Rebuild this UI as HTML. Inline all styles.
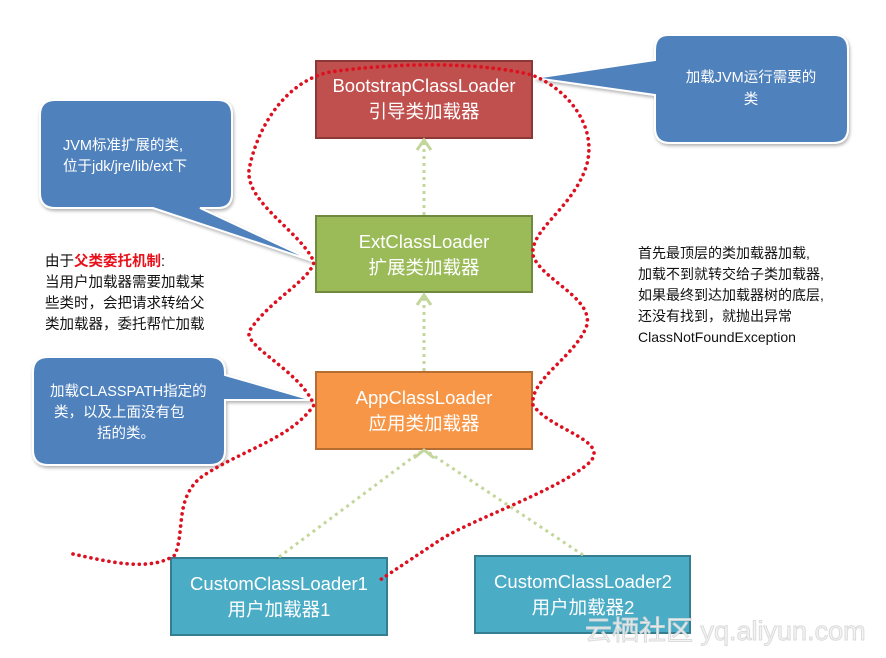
<!DOCTYPE html>
<html><head><meta charset="utf-8"><style>
html,body{margin:0;padding:0;background:#fff;}
svg{display:block;font-family:"Liberation Sans","Noto Sans CJK SC",sans-serif;}
</style></head><body>
<svg width="886" height="658" viewBox="0 0 886 658" xmlns="http://www.w3.org/2000/svg">
<defs>
<filter id="sh" x="-10%" y="-10%" width="130%" height="130%"><feDropShadow dx="1" dy="2" stdDeviation="1.5" flood-color="#000" flood-opacity="0.3"/></filter>
</defs>
<g fill="#4f81bd" stroke="#fff" stroke-width="2" filter="url(#sh)">
<path d="M668,35 H835 Q848,35 848,50 V128 Q848,143 833,143 H670 Q655,143 655,128 V95 L535,78 L655,60 V50 Q655,35 668,35 Z"/>
<path d="M55,100 H218 Q232,100 232,115 V193 Q232,208 218,208 H200 L316,262 L153,208 H55 Q40,208 40,193 V115 Q40,100 55,100 Z"/>
<path d="M48,357 H210 Q225,357 225,372 V375 L312,400 L225,400 V450 Q225,465 210,465 H48 Q33,465 33,450 V372 Q33,357 48,357 Z"/>
</g>
<g fill="#fff" font-size="14.5">
<text x="751" y="82" text-anchor="middle">加载JVM运行需要的</text>
<text x="751" y="104" text-anchor="middle">类</text>
<text x="63" y="150">JVM标准扩展的类,</text>
<text x="63" y="171">位于jdk/jre/lib/ext下</text>
<text x="50" y="396">加载CLASSPATH指定的</text>
<text x="54" y="417">类，以及上面没有包</text>
<text x="97" y="438">括的类。</text>
</g>
<rect x="316" y="61" width="216" height="77" fill="#c0504d" stroke="#8c3836" stroke-width="2"/>
<rect x="316" y="216" width="216" height="76" fill="#9bbb59" stroke="#71893f" stroke-width="2"/>
<rect x="316" y="372" width="216" height="77" fill="#f79646" stroke="#b66d31" stroke-width="2"/>
<rect x="171" y="558" width="216" height="77" fill="#4bacc6" stroke="#357d91" stroke-width="2"/>
<rect x="475" y="556" width="215" height="77" fill="#4bacc6" stroke="#357d91" stroke-width="2"/>
<g fill="#fff" font-size="18.5" text-anchor="middle">
<text x="424" y="92">BootstrapClassLoader</text><text x="424" y="118">引导类加载器</text>
<text x="424" y="248">ExtClassLoader</text><text x="424" y="274">扩展类加载器</text>
<text x="424" y="404">AppClassLoader</text><text x="424" y="430">应用类加载器</text>
<text x="279" y="590">CustomClassLoader1</text><text x="279" y="616">用户加载器1</text>
<text x="583" y="588">CustomClassLoader2</text><text x="583" y="614">用户加载器2</text>
</g>
<g stroke="#c3d69b" stroke-width="3" stroke-dasharray="3,4" fill="none">
<line x1="424" y1="215" x2="424" y2="142"/>
<line x1="424" y1="371" x2="424" y2="297"/>
<line x1="279" y1="557" x2="420" y2="452"/>
<line x1="583" y1="555" x2="428" y2="452"/>
</g>
<g stroke="#c3d69b" stroke-width="3" fill="none">
<path d="M417,150 L424,140 L431,150"/>
<path d="M417,305 L424,295 L431,305"/>
<path d="M414,458 L424,450 L434,458"/>
</g>
<path d="M73,554 C110,562 150,572 175,555 C185,530 175,500 200,478 C240,450 290,440 314,405 C300,370 240,345 250,330 C270,300 310,280 314,262 C300,230 240,200 250,165 C260,120 290,80 330,72 C400,62 480,62 532,75 C570,90 600,130 585,170 C570,210 530,230 533,255 C540,280 600,300 585,330 C570,360 530,380 533,405 C550,430 610,440 590,462 C560,490 470,520 440,540 C410,560 395,570 380,580" fill="none" stroke="#dd1020" stroke-width="3.6" stroke-linecap="round" stroke-dasharray="0.1,6"/>
<g font-size="14.5" fill="#111">
<text x="45" y="266">由于<tspan fill="#e8101a" font-weight="bold">父类委托机制</tspan>:</text>
<text x="45" y="287">当用户加载器需要加载某</text>
<text x="45" y="308">些类时，会把请求转给父</text>
<text x="45" y="329">类加载器，委托帮忙加载</text>
</g>
<g font-size="14" fill="#111">
<text x="638" y="258">首先最顶层的类加载器加载,</text>
<text x="638" y="279">加载不到就转交给子类加载器,</text>
<text x="638" y="300">如果最终到达加载器树的底层,</text>
<text x="638" y="321">还没有找到，就抛出异常</text>
<text x="638" y="342">ClassNotFoundException</text>
</g>
<text x="585" y="640" font-size="27" fill="#f4f4f4" stroke="#d8d8d8" stroke-width="1" opacity="0.9">云栖社区 yq.aliyun.com</text>
</svg>
</body></html>
